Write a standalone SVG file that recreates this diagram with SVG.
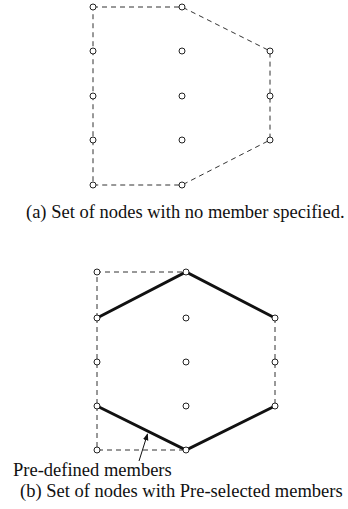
<svg xmlns="http://www.w3.org/2000/svg" width="348" height="509" viewBox="0 0 348 509">
<defs>
<style>
.n{fill:#fff;stroke:#222;stroke-width:1}
.d{fill:none;stroke:#333;stroke-width:1;stroke-dasharray:5,4}
.m{fill:none;stroke:#111;stroke-width:3}
.t{font-family:"Liberation Serif","Times New Roman",serif;font-size:18.5px;fill:#111}
</style>
<marker id="ah" viewBox="0 0 10 10" refX="9" refY="5" markerWidth="7" markerHeight="7" orient="auto"><path d="M0,1 L10,5 L0,9 Z" fill="#111"/></marker>
</defs>
<g id="connectors">
<path class="d" d="M93,7 H182 L270,51 V140 L182,185 H93 Z"/>
<path class="d" d="M97,318 V272 H186"/>
<path class="d" d="M97,406 V450 H186"/>
<path class="d" d="M275,318 V406"/>
<path class="d" d="M97,318 V406"/>
<path class="m" d="M97,318 L186,272 L275,318"/>
<path class="m" d="M97,406 L186,450 L275,406"/>
<path fill="none" stroke="#111" stroke-width="1" d="M139,461 L147.5,434" marker-end="url(#ah)"/>
</g>
<g id="nodes-a">
<circle class="n" cx="93" cy="7" r="3"/><circle class="n" cx="182" cy="7" r="3"/>
<circle class="n" cx="93" cy="51" r="3"/><circle class="n" cx="182" cy="51" r="3"/><circle class="n" cx="270" cy="51" r="3"/>
<circle class="n" cx="93" cy="96" r="3"/><circle class="n" cx="182" cy="96" r="3"/><circle class="n" cx="270" cy="96" r="3"/>
<circle class="n" cx="93" cy="140" r="3"/><circle class="n" cx="182" cy="140" r="3"/><circle class="n" cx="270" cy="140" r="3"/>
<circle class="n" cx="93" cy="185" r="3"/><circle class="n" cx="182" cy="185" r="3"/>
</g>
<g id="nodes-b">
<circle class="n" cx="97" cy="272" r="3"/><circle class="n" cx="186" cy="272" r="3"/>
<circle class="n" cx="97" cy="318" r="3"/><circle class="n" cx="186" cy="318" r="3"/><circle class="n" cx="275" cy="318" r="3"/>
<circle class="n" cx="97" cy="362" r="3"/><circle class="n" cx="186" cy="362" r="3"/><circle class="n" cx="275" cy="362" r="3"/>
<circle class="n" cx="97" cy="406" r="3"/><circle class="n" cx="186" cy="406" r="3"/><circle class="n" cx="275" cy="406" r="3"/>
<circle class="n" cx="97" cy="450" r="3"/><circle class="n" cx="186" cy="450" r="3"/>
</g>
<g id="labels">
<text class="t" x="26" y="218">(a) Set of nodes with no member specified.</text>
<text class="t" x="13" y="476">Pre-defined members</text>
<text class="t" x="20" y="497">(b) Set of nodes with Pre-selected members</text>
</g>
</svg>
